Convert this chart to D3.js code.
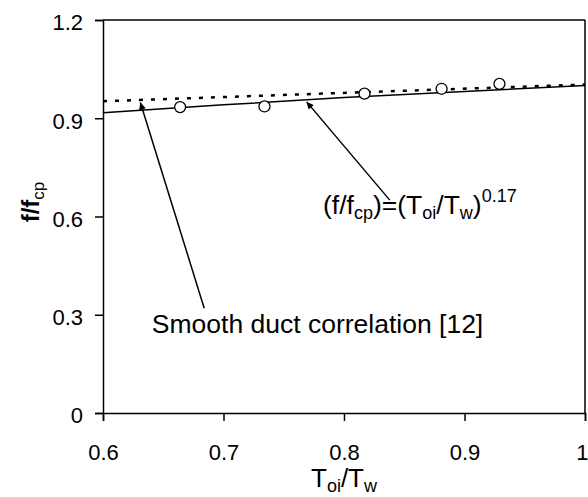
<!DOCTYPE html>
<html><head><meta charset="utf-8">
<script src="https://cdn.jsdelivr.net/npm/d3@7"></script>
<style>body{margin:0;background:#fff}svg{display:block}text{font-family:"Liberation Sans",Arial,sans-serif;fill:#000}</style>
</head><body>
<svg id="c" width="588" height="497"></svg>
<script>
// data
const xTicks = [0.6, 0.7, 0.8, 0.9, 1.0];
const xTickLabels = ["0.6", "0.7", "0.8", "0.9", "1"];
const yTicks = [0, 0.3, 0.6, 0.9, 1.2];
const yTickLabels = ["0", "0.3", "0.6", "0.9", "1.2"];
const expX = [0.664, 0.734, 0.817, 0.881, 0.929];
const expY = [0.934, 0.936, 0.975, 0.990, 1.005];
const fitX = [0.6, 0.7, 0.8, 0.9, 1.0];
const fitY = [0.917, 0.941, 0.963, 0.982, 1.0];
const smoothX = [0.6, 1.0];
const smoothY = [0.952, 1.003];

const svg = d3.select("#c");
const W = 588, H = 497;
const m = {l: 103, r: 3, t: 20, b: 84};
const x = d3.scaleLinear().domain([0.6, 1.0]).range([m.l, W - m.r]);
const y = d3.scaleLinear().domain([0, 1.2]).range([H - m.b, m.t]);

// frame (top & right)
svg.append("line").attr("x1", x(0.6)).attr("x2", x(1.0)).attr("y1", y(1.2)).attr("y2", y(1.2))
  .attr("stroke", "#000").attr("stroke-width", 1.5);
svg.append("line").attr("x1", x(1.0)).attr("x2", x(1.0)).attr("y1", y(1.2)).attr("y2", y(0))
  .attr("stroke", "#000").attr("stroke-width", 1.5);

const xAxis = svg.append("g").attr("transform", `translate(0,${y(0)})`)
  .call(d3.axisBottom(x).tickValues(xTicks).tickFormat((d, i) => xTickLabels[i]).tickSize(8).tickPadding(23));
const yAxis = svg.append("g").attr("transform", `translate(${x(0.6)},0)`)
  .call(d3.axisLeft(y).tickValues(yTicks).tickFormat((d, i) => yTickLabels[i]).tickSize(8).tickPadding(12));
[xAxis, yAxis].forEach(g => {
  g.select(".domain").attr("stroke", "#000").attr("stroke-width", 1.5);
  g.selectAll(".tick line").attr("stroke", "#000").attr("stroke-width", 1.5);
  g.selectAll(".tick text").attr("font-size", 22).attr("font-family", '"Liberation Sans",Arial,sans-serif').attr("fill", "#000");
});
yAxis.selectAll(".tick text").attr("dy", "0.45em");
xAxis.selectAll(".tick text").filter((d, i) => i === xTicks.length - 1).attr("text-anchor", "end").attr("dx", 3);

// lines
const line = d3.line().x(d => x(d[0])).y(d => y(d[1]));
svg.append("path").attr("d", line(fitX.map((v, i) => [v, fitY[i]])))
  .attr("fill", "none").attr("stroke", "#000").attr("stroke-width", 1.5);
svg.append("path").attr("d", line(smoothX.map((v, i) => [v, smoothY[i]])))
  .attr("fill", "none").attr("stroke", "#000").attr("stroke-width", 2.5).attr("stroke-dasharray", "4,8");

// points
svg.selectAll("circle.p").data(expX.map((v, i) => [v, expY[i]])).enter().append("circle")
  .attr("cx", d => x(d[0])).attr("cy", d => y(d[1])).attr("r", 5.5)
  .attr("fill", "#fff").attr("stroke", "#000").attr("stroke-width", 1.3);

// arrows
svg.append("defs").append("marker").attr("id", "ah").attr("viewBox", "0 0 10 10")
  .attr("refX", 10).attr("refY", 5).attr("markerWidth", 9).attr("markerHeight", 7)
  .attr("markerUnits", "userSpaceOnUse").attr("orient", "auto")
  .append("path").attr("d", "M0,0 L10,5 L0,10 Z").attr("fill", "#000");
const arrows = [
  {from: [0.684, 0.32], to: [0.631, 0.948]},
  {from: [0.838, 0.65], to: [0.769, 0.950]}
];
svg.selectAll("line.arr").data(arrows).enter().append("line")
  .attr("x1", d => x(d.from[0])).attr("y1", d => y(d.from[1]))
  .attr("x2", d => x(d.to[0])).attr("y2", d => y(d.to[1]))
  .attr("stroke", "#000").attr("stroke-width", 1.5).attr("marker-end", "url(#ah)");

// annotation texts
svg.append("text").attr("x", x(0.6405)).attr("y", y(0.245)).attr("font-size", 26.5)
  .text("Smooth duct correlation [12]");
const f = svg.append("text").attr("x", x(0.7826)).attr("y", y(0.607)).attr("font-size", 26.5);
f.append("tspan").text("(f/f");
f.append("tspan").attr("font-size", 18).attr("dy", 5).text("cp");
f.append("tspan").attr("dy", -5).text(")=(T");
f.append("tspan").attr("font-size", 18).attr("dy", 5).text("oi");
f.append("tspan").attr("dy", -5).text("/T");
f.append("tspan").attr("font-size", 18).attr("dy", 5).text("w");
f.append("tspan").attr("dy", -5).text(")");
f.append("tspan").attr("font-size", 18).attr("dy", -12).text("0.17");

// axis titles
const xt = svg.append("text").attr("x", (x(0.6) + x(1.0)) / 2).attr("y", 487)
  .attr("text-anchor", "middle").attr("font-size", 26);
xt.append("tspan").text("T");
xt.append("tspan").attr("font-size", 18).attr("dy", 5).text("oi");
xt.append("tspan").attr("dy", -5).text("/T");
xt.append("tspan").attr("font-size", 18).attr("dy", 5).text("w");

const yt = svg.append("text").attr("transform", `translate(39,202) rotate(-90)`)
  .attr("text-anchor", "middle").attr("font-size", 24).attr("font-weight", "bold");
yt.append("tspan").text("f/f");
yt.append("tspan").attr("font-size", 17).attr("font-weight", "normal").attr("dy", 5).text("cp");
</script>
</body></html>
